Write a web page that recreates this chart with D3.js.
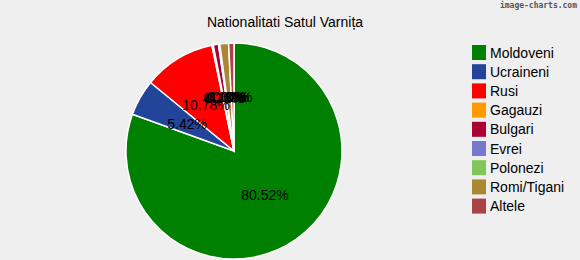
<!DOCTYPE html>
<html><head><meta charset="utf-8">
<script src="https://cdn.jsdelivr.net/npm/d3@7"></script>
<style>
html,body{margin:0;padding:0;background:#efefef;}
svg{display:block;font-family:"Liberation Sans",Arial,sans-serif;}
</style></head>
<body><svg id="c" width="580" height="260"></svg>
<script>
const title = "Nationalitati Satul Varnița";
const categories = ["Moldoveni","Ucraineni","Rusi","Gagauzi","Bulgari","Evrei","Polonezi","Romi/Tigani","Altele"];
const values = [80.52, 5.42, 10.78, 0.20, 0.78, 0.10, 0.10, 1.30, 0.80];
const colors = ["#008000","#224499","#ff0000","#ff9900","#aa0033","#7777cc","#80c65a","#aa8833","#aa4444"];

const svg = d3.select("#c");
svg.append("rect").attr("width",580).attr("height",260).attr("fill","#efefef");

svg.append("text").attr("x",285).attr("y",27).attr("text-anchor","middle")
  .attr("font-size",14).attr("fill","#000").text(title);

svg.append("text").attr("x",577).attr("y",8).attr("text-anchor","end")
  .attr("font-family","DejaVu Sans Mono, monospace").attr("font-size",8).attr("font-weight","bold")
  .attr("fill","#555").text("image-charts.com");

const cx = 234, cy = 151, r = 108;
const color = d3.scaleOrdinal().domain(categories).range(colors);
const pie = d3.pie().sort(null).value(d => d.v);
const data = categories.map((c,i) => ({c, v: values[i]}));
const arcs = pie(data);
const arc = d3.arc().innerRadius(0).outerRadius(r);
const labelArc = d3.arc().innerRadius(r*0.5).outerRadius(r*0.5);

const g = svg.append("g").attr("transform",`translate(${cx},${cy})`);
g.selectAll("path").data(arcs).join("path")
  .attr("d",arc).attr("fill",d => color(d.data.c))
  .attr("stroke","#fff").attr("stroke-width",1.5);

g.selectAll("text").data(arcs).join("text")
  .attr("transform",d => `translate(${labelArc.centroid(d)})`)
  .attr("text-anchor","middle").attr("dy","0.35em")
  .attr("font-size",14).attr("fill","#000")
  .text(d => d.data.v.toFixed(2) + "%");

const lg = svg.append("g").attr("transform","translate(472,45)");
const items = lg.selectAll("g").data(categories).join("g")
  .attr("transform",(d,i) => `translate(0,${i*19.2})`);
items.append("rect").attr("width",14).attr("height",15).attr("fill",d => color(d));
items.append("text").attr("x",18).attr("y",12.5).attr("font-size",14).attr("fill","#000").text(d => d);
</script>
</body></html>
